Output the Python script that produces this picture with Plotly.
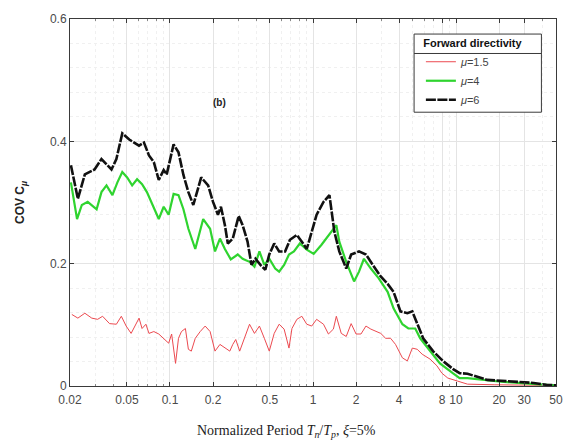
import plotly.graph_objects as go

# ---------------- data ----------------
period_mu6 = [0.0203, 0.0227, 0.0254, 0.0275, 0.0297, 0.0332, 0.0360, 0.0390, 0.0422, 0.0464,
              0.0519, 0.0562, 0.0608, 0.0658, 0.0713, 0.0771, 0.0835, 0.0904, 0.0949, 0.1060,
              0.1147, 0.1242, 0.1345, 0.1456, 0.1576, 0.1653, 0.1848, 0.2000, 0.2165, 0.2271,
              0.2421, 0.2538, 0.2749, 0.3024, 0.3221, 0.3486, 0.3716, 0.3959, 0.4289, 0.4642,
              0.4946, 0.5355, 0.5797, 0.6381, 0.6902, 0.7716, 0.8354, 0.9046, 0.9793, 1.060,
              1.184, 1.303, 1.411, 1.527, 1.707, 1.848, 2.097, 2.345, 2.620, 2.976,
              3.325, 3.657, 4.087, 4.569, 4.946, 5.354, 5.890, 6.902, 8.093, 9.490,
              10.60, 12.03, 16.53, 22.71, 34.86, 42.89, 50.0]
cov_mu6 = [0.361, 0.306, 0.346, 0.350, 0.354, 0.371, 0.363, 0.354, 0.371, 0.413,
           0.403, 0.398, 0.393, 0.398, 0.377, 0.366, 0.337, 0.353, 0.346, 0.395,
           0.382, 0.345, 0.317, 0.296, 0.322, 0.341, 0.328, 0.301, 0.280, 0.293,
           0.263, 0.233, 0.241, 0.278, 0.263, 0.236, 0.198, 0.208, 0.198, 0.190,
           0.215, 0.233, 0.220, 0.220, 0.239, 0.247, 0.236, 0.224, 0.252, 0.280,
           0.301, 0.312, 0.252, 0.220, 0.192, 0.215, 0.220, 0.215, 0.198, 0.179,
           0.167, 0.154, 0.122, 0.119, 0.122, 0.101, 0.078, 0.057, 0.041, 0.028,
           0.021, 0.020, 0.010, 0.008, 0.005, 0.002, 0.001]

period_mu4 = [0.0203, 0.0224, 0.0242, 0.0266, 0.0307, 0.0332, 0.0360, 0.0396, 0.0429, 0.0464,
              0.0502, 0.0544, 0.0589, 0.0638, 0.0690, 0.0747, 0.0835, 0.0904, 0.0979, 0.1060,
              0.1147, 0.1242, 0.1345, 0.1503, 0.1707, 0.1908, 0.2065, 0.2235, 0.2421, 0.2662,
              0.2976, 0.3221, 0.3600, 0.3897, 0.4221, 0.4569, 0.4946, 0.5441, 0.5797, 0.6281,
              0.6793, 0.7355, 0.8093, 0.9046, 1.011, 1.147, 1.345, 1.456, 1.527, 1.707,
              1.937, 2.097, 2.271, 2.538, 2.882, 3.325, 3.657, 4.219, 4.642, 5.187,
              5.616, 6.581, 7.716, 9.490, 10.60, 12.03, 20.65, 42.89, 50.0]
cov_mu4 = [0.333, 0.273, 0.296, 0.301, 0.289, 0.317, 0.328, 0.312, 0.333, 0.350,
           0.341, 0.328, 0.338, 0.330, 0.317, 0.298, 0.273, 0.293, 0.280, 0.314,
           0.312, 0.289, 0.257, 0.224, 0.273, 0.257, 0.220, 0.241, 0.224, 0.207,
           0.215, 0.208, 0.203, 0.195, 0.220, 0.198, 0.208, 0.192, 0.187, 0.198,
           0.215, 0.220, 0.233, 0.223, 0.216, 0.231, 0.252, 0.263, 0.236, 0.203,
           0.171, 0.187, 0.208, 0.192, 0.176, 0.154, 0.127, 0.101, 0.094, 0.094,
           0.078, 0.057, 0.037, 0.021, 0.013, 0.013, 0.007, 0.002, 0.001]

period_mu15 = [0.0206, 0.0227, 0.0254, 0.0284, 0.0312, 0.0338, 0.0378, 0.0422, 0.0457, 0.0494,
               0.0535, 0.0580, 0.0608, 0.0638, 0.0679, 0.0713, 0.0771, 0.0835, 0.0904, 0.0979,
               0.1027, 0.1094, 0.1147, 0.1203, 0.1282, 0.1345, 0.1410, 0.1503, 0.1627, 0.1762,
               0.1908, 0.2065, 0.2235, 0.2421, 0.2620, 0.2749, 0.2882, 0.3072, 0.3325, 0.3600,
               0.3897, 0.4221, 0.4569, 0.4946, 0.5355, 0.5797, 0.6281, 0.6793, 0.7125, 0.7716,
               0.8354, 0.9046, 0.9793, 1.060, 1.184, 1.282, 1.388, 1.456, 1.576, 1.707,
               1.848, 2.000, 2.165, 2.345, 2.538, 2.749, 2.976, 3.221, 3.486, 3.775,
               4.219, 4.569, 4.946, 5.354, 5.797, 6.581, 7.355, 7.962, 8.760, 10.27,
               12.03, 18.48, 50.0]
cov_mu15 = [0.117, 0.111, 0.119, 0.111, 0.109, 0.114, 0.102, 0.101, 0.114, 0.098,
            0.086, 0.101, 0.111, 0.094, 0.101, 0.086, 0.089, 0.085, 0.078, 0.070,
            0.085, 0.037, 0.078, 0.089, 0.094, 0.060, 0.057, 0.078, 0.089, 0.098,
            0.089, 0.057, 0.068, 0.062, 0.057, 0.068, 0.076, 0.057, 0.078, 0.101,
            0.086, 0.098, 0.078, 0.057, 0.086, 0.101, 0.093, 0.062, 0.094, 0.109,
            0.114, 0.101, 0.098, 0.109, 0.101, 0.085, 0.093, 0.114, 0.086, 0.081,
            0.102, 0.085, 0.085, 0.098, 0.093, 0.089, 0.086, 0.078, 0.078, 0.068,
            0.046, 0.041, 0.062, 0.060, 0.052, 0.044, 0.033, 0.021, 0.013, 0.008,
            0.003, 0.002, 0.001]

x_ticks = [0.02, 0.05, 0.1, 0.2, 0.5, 1, 2, 4, 8, 10, 20, 30, 50]
x_tick_text = ["0.02", "0.05", "0.1", "0.2", "0.5", "1", "2", "4", "8", "10", "20", "30", "50"]
y_ticks = [0, 0.2, 0.4, 0.6]
y_tick_text = ["0", "0.2", "0.4", "0.6"]

# ---------------- figure ----------------
fig = go.Figure()
fig.add_trace(go.Scatter(x=period_mu15, y=cov_mu15, mode="lines", name="<i>μ</i>=1.5",
                         line=dict(color="#ec4a50", width=1)))
fig.add_trace(go.Scatter(x=period_mu4, y=cov_mu4, mode="lines", name="<i>μ</i>=4",
                         line=dict(color="#2fd42f", width=2.2)))
fig.add_trace(go.Scatter(x=period_mu6, y=cov_mu6, mode="lines", name="<i>μ</i>=6",
                         line=dict(color="#111111", width=2.6, dash="10px,1.5px")))

axis_font = dict(family="Liberation Sans, Arial, sans-serif", size=12, color="#4a4a4a")

fig.update_xaxes(
    type="log", range=[0.30103 - 2, 1.69897], autorange=False,
    tickvals=x_ticks, ticktext=x_tick_text, tickangle=0, tickfont=axis_font,
    ticklabelstandoff=3,
    showline=True, linecolor="#3a3a3a", linewidth=1, mirror="allticks",
    ticks="inside", ticklen=4, tickcolor="#3a3a3a",
    showgrid=True, gridcolor="#e4e4e4", gridwidth=1,
    minor=dict(showgrid=True, gridcolor="#f0f0f0", griddash="dot", dtick="D1",
               ticks="inside", ticklen=2, tickcolor="#888888"),
    zeroline=False,
)
fig.update_yaxes(
    range=[0, 0.6], autorange=False,
    tickvals=y_ticks, ticktext=y_tick_text, tickfont=axis_font,
    showline=True, linecolor="#3a3a3a", linewidth=1, mirror="allticks",
    ticks="inside", ticklen=4, tickcolor="#3a3a3a",
    showgrid=True, gridcolor="#e4e4e4", gridwidth=1,
    minor=dict(showgrid=True, gridcolor="#f0f0f0", griddash="dot", dtick=0.04),
    zeroline=False,
    title=dict(text="<b>COV C<sub><i>μ</i></sub></b>", standoff=22,
               font=dict(family="Liberation Sans, Arial, sans-serif", size=12, color="#222222")),
)

fig.update_layout(
    width=575, height=448,
    margin=dict(l=70, r=12, t=16, b=62),
    paper_bgcolor="white", plot_bgcolor="white",
    showlegend=True,
    legend=dict(
        x=0.722, y=0.962, xanchor="left", yanchor="top",
        bgcolor="rgba(0,0,0,0)", borderwidth=0,
        font=dict(family="Liberation Sans, Arial, sans-serif", size=11, color="#444444"),
        title=dict(text="<b>Forward directivity</b>", side="top center",
                   font=dict(family="Liberation Sans, Arial, sans-serif", size=11, color="#111111")),
        tracegroupgap=0, itemwidth=30,
    ),
    shapes=[
        # legend box (drawn as shapes so the title separator is visible)
        dict(type="rect", xref="paper", yref="paper", x0=0.708, x1=0.970, y0=0.746, y1=0.959,
             fillcolor="white", line=dict(color="#3a3a3a", width=1), layer="above"),
        dict(type="line", xref="paper", yref="paper", x0=0.708, x1=0.970, y0=0.906, y1=0.906,
             line=dict(color="#3a3a3a", width=1), layer="above"),
    ],
    annotations=[
        dict(text="Normalized Period <i>T<sub>n</sub></i>/<i>T<sub>p</sub></i>, <i>ξ</i>=5%",
             xref="paper", yref="paper", x=0.446, y=-0.124, xanchor="center", yanchor="middle",
             showarrow=False,
             font=dict(family="Liberation Serif, Times New Roman, serif", size=14, color="#222222")),
        dict(text="<b>(b)</b>", xref="paper", yref="paper", x=0.308, y=0.773,
             xanchor="center", yanchor="middle", showarrow=False,
             font=dict(family="Liberation Sans, Arial, sans-serif", size=10, color="#222222")),
    ],
)

fig.write_html("out.html")
